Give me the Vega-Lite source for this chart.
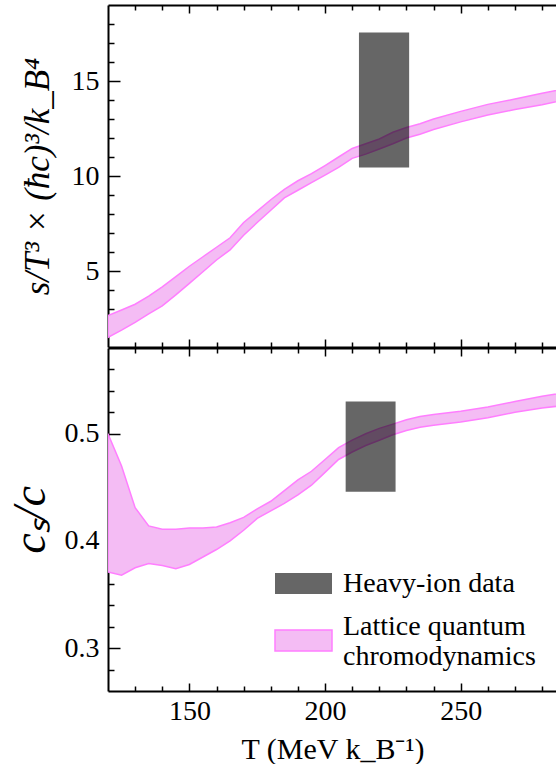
{
  "$schema": "https://vega.github.io/schema/vega-lite/v6.json",
  "padding": {"left": 7, "top": 4, "right": 0, "bottom": 0},
  "background": "white",
  "config": {
    "view": {"stroke": null},
    "axis": {
      "grid": false, "domainColor": "#000", "domainWidth": 2, "tickColor": "#000", "tickWidth": 1.5,
      "labelFont": "Liberation Serif", "labelFontSize": 28, "labelColor": "#000",
      "titleFont": "Liberation Serif", "titleFontSize": 30, "titleFontWeight": "normal", "titleColor": "#000",
      "labelOverlap": false, "labelFlush": false
    }
  },
  "datasets": {
    "entropy": [
      {"T": 120, "lo": 1.51, "hi": 2.65}, {"T": 125, "lo": 1.89, "hi": 2.95}, {"T": 130, "lo": 2.30, "hi": 3.25},
      {"T": 135, "lo": 2.74, "hi": 3.68}, {"T": 140, "lo": 3.17, "hi": 4.17}, {"T": 145, "lo": 3.74, "hi": 4.70},
      {"T": 150, "lo": 4.35, "hi": 5.25}, {"T": 155, "lo": 4.96, "hi": 5.75}, {"T": 160, "lo": 5.58, "hi": 6.25},
      {"T": 165, "lo": 6.11, "hi": 6.75}, {"T": 170, "lo": 6.88, "hi": 7.55}, {"T": 175, "lo": 7.55, "hi": 8.15},
      {"T": 180, "lo": 8.20, "hi": 8.75}, {"T": 185, "lo": 8.85, "hi": 9.30}, {"T": 190, "lo": 9.25, "hi": 9.75},
      {"T": 195, "lo": 9.65, "hi": 10.12}, {"T": 200, "lo": 10.05, "hi": 10.55}, {"T": 205, "lo": 10.45, "hi": 11.0},
      {"T": 210, "lo": 10.93, "hi": 11.45}, {"T": 215, "lo": 11.15, "hi": 11.70}, {"T": 220, "lo": 11.42, "hi": 11.95},
      {"T": 225, "lo": 11.70, "hi": 12.30}, {"T": 230, "lo": 12.0, "hi": 12.55}, {"T": 235, "lo": 12.20, "hi": 12.75},
      {"T": 240, "lo": 12.45, "hi": 13.0}, {"T": 250, "lo": 12.85, "hi": 13.40}, {"T": 260, "lo": 13.21, "hi": 13.77},
      {"T": 270, "lo": 13.50, "hi": 14.05}, {"T": 280, "lo": 13.75, "hi": 14.35}, {"T": 290, "lo": 14.05, "hi": 14.65}
    ],
    "sound": [
      {"T": 120, "lo": 0.371, "hi": 0.500}, {"T": 125, "lo": 0.368, "hi": 0.470}, {"T": 130, "lo": 0.375, "hi": 0.431},
      {"T": 135, "lo": 0.379, "hi": 0.414}, {"T": 140, "lo": 0.377, "hi": 0.411}, {"T": 145, "lo": 0.374, "hi": 0.411},
      {"T": 150, "lo": 0.378, "hi": 0.412}, {"T": 155, "lo": 0.385, "hi": 0.412}, {"T": 160, "lo": 0.392, "hi": 0.413},
      {"T": 165, "lo": 0.400, "hi": 0.417}, {"T": 170, "lo": 0.410, "hi": 0.422}, {"T": 175, "lo": 0.421, "hi": 0.430},
      {"T": 180, "lo": 0.428, "hi": 0.437}, {"T": 185, "lo": 0.435, "hi": 0.447}, {"T": 190, "lo": 0.443, "hi": 0.457},
      {"T": 195, "lo": 0.452, "hi": 0.465}, {"T": 200, "lo": 0.464, "hi": 0.476}, {"T": 205, "lo": 0.476, "hi": 0.487},
      {"T": 210, "lo": 0.483, "hi": 0.494}, {"T": 215, "lo": 0.489, "hi": 0.500}, {"T": 220, "lo": 0.494, "hi": 0.505},
      {"T": 225, "lo": 0.499, "hi": 0.509}, {"T": 230, "lo": 0.503, "hi": 0.513}, {"T": 235, "lo": 0.506, "hi": 0.516},
      {"T": 240, "lo": 0.508, "hi": 0.518}, {"T": 250, "lo": 0.511, "hi": 0.521}, {"T": 260, "lo": 0.515, "hi": 0.525},
      {"T": 270, "lo": 0.520, "hi": 0.530}, {"T": 280, "lo": 0.524, "hi": 0.535}, {"T": 290, "lo": 0.527, "hi": 0.539}
    ],
    "hion_s": [{"T0": 212.5, "T1": 231, "v0": 10.45, "v1": 17.55}],
    "hion_cs": [{"T0": 207.6, "T1": 226, "v0": 0.446, "v1": 0.530}]
  },
  "spacing": 1,
  "bounds": "flush",
  "resolve": {
    "scale": {"fill": "independent", "stroke": "independent"},
    "legend": {"fill": "independent", "stroke": "independent"}
  },
  "vconcat": [
    {
      "width": 449, "height": 342,
      "resolve": {"axis": {"x": "independent", "y": "independent"}},
      "layer": [
        {
          "data": {"name": "entropy"},
          "mark": {"type": "area", "fill": "#f4bcf4", "stroke": "#ff7eff", "strokeWidth": 1.5, "opacity": 1, "clip": true},
          "encoding": {
            "x": {"field": "T", "type": "quantitative",
              "scale": {"domain": [120, 285.5], "nice": false, "zero": false},
              "axis": {"orient": "bottom", "values": [130,140,150,160,170,180,190,200,210,220,230,240,250,260,270,280],
                "labels": false, "title": null,
                "tickSize": {"condition": {"test": "datum.value % 50 === 0", "value": -8}, "value": -5}}},
            "y": {"field": "hi", "type": "quantitative",
              "scale": {"domain": [1, 19], "nice": false, "zero": false},
              "axis": {"orient": "left", "values": [2,3,4,5,6,7,8,9,10,11,12,13,14,15,16,17,18],
                "labelExpr": "datum.value % 5 === 0 ? datum.label : ''", "labelPadding": 21,
                "tickSize": {"condition": {"test": "datum.value % 5 === 0", "value": -12}, "value": -6},
                "title": "s/T³ × (ħc)³/k_B⁴", "titlePadding": 16, "titleFontSize": 35, "titleFontStyle": "italic"}},
            "y2": {"field": "lo"}
          }
        },
        {
          "data": {"name": "hion_s"},
          "mark": {"type": "rect", "fill": "#000000", "opacity": 0.6, "clip": true},
          "encoding": {
            "x": {"field": "T0", "type": "quantitative",
              "axis": {"orient": "top", "values": [130,140,150,160,170,180,190,200,210,220,230,240,250,260,270,280],
                "labels": false, "title": null,
                "tickSize": {"condition": {"test": "datum.value % 50 === 0", "value": -8}, "value": -5}}},
            "x2": {"field": "T1"},
            "y": {"field": "v0", "type": "quantitative", "axis": null},
            "y2": {"field": "v1"}
          }
        }
      ]
    },
    {
      "width": 449, "height": 343,
      "resolve": {
        "axis": {"x": "independent", "y": "independent"},
        "scale": {"fill": "independent", "stroke": "independent"},
        "legend": {"fill": "independent", "stroke": "independent"}
      },
      "layer": [
        {
          "data": {"name": "sound"},
          "mark": {"type": "area", "strokeWidth": 1.5, "opacity": 1, "clip": true},
          "encoding": {
            "x": {"field": "T", "type": "quantitative",
              "scale": {"domain": [120, 285.5], "nice": false, "zero": false},
              "axis": {"orient": "bottom", "values": [130,140,150,160,170,180,190,200,210,220,230,240,250,260,270,280],
                "labelExpr": "datum.value % 50 === 0 ? datum.label : ''", "labelPadding": 14,
                "tickSize": {"condition": {"test": "datum.value % 50 === 0", "value": -8}, "value": -5},
                "title": "T (MeV k_B⁻¹)", "titlePadding": 6}},
            "y": {"field": "hi", "type": "quantitative",
              "scale": {"domain": [0.26, 0.58], "nice": false, "zero": false},
              "axis": {"orient": "left", "values": [0.28,0.3,0.32,0.34,0.36,0.38,0.4,0.42,0.44,0.46,0.48,0.5,0.52,0.54,0.56],
                "format": ".1f",
                "labelExpr": "abs(datum.value*10 - round(datum.value*10)) < 0.001 ? datum.label : ''", "labelPadding": 21,
                "tickSize": {"condition": {"test": "abs(datum.value*10 - round(datum.value*10)) < 0.001", "value": -12}, "value": -6},
                "title": "cₛ/c", "titlePadding": 10, "titleFontSize": 46, "titleFontStyle": "italic"}},
            "y2": {"field": "lo"},
            "fill": {"datum": "Lattice quantum chromodynamics", "type": "nominal",
              "scale": {"domain": ["Lattice quantum chromodynamics"], "range": ["#f4bcf4"]},
              "legend": {"orient": "none", "legendX": 166, "legendY": 263, "title": null, "padding": 0,
                "symbolType": "M-1,-0.368H1V0.368H-1Z", "symbolSize": 3249, "symbolStrokeWidth": 1.5,
                "labelFont": "Liberation Serif", "labelFontSize": 28, "labelColor": "#000", "labelOffset": 10, "labelLimit": 0,
                "labelBaseline": "bottom",
                "labelExpr": "['Lattice quantum', 'chromodynamics']"}},
            "stroke": {"datum": "Lattice quantum chromodynamics", "type": "nominal",
              "scale": {"domain": ["Lattice quantum chromodynamics"], "range": ["#ff7eff"]},
              "legend": null}
          }
        },
        {
          "data": {"name": "hion_cs"},
          "mark": {"type": "rect", "opacity": 0.6, "clip": true},
          "encoding": {
            "x": {"field": "T0", "type": "quantitative",
              "axis": {"orient": "top", "values": [130,140,150,160,170,180,190,200,210,220,230,240,250,260,270,280],
                "labels": false, "title": null,
                "tickSize": {"condition": {"test": "datum.value % 50 === 0", "value": -8}, "value": -5}}},
            "x2": {"field": "T1"},
            "y": {"field": "v0", "type": "quantitative", "axis": null},
            "y2": {"field": "v1"},
            "fill": {"datum": "Heavy-ion data", "type": "nominal",
              "scale": {"domain": ["Heavy-ion data"], "range": ["#000000"]},
              "legend": {"orient": "none", "legendX": 166, "legendY": 206, "title": null, "padding": 0,
                "symbolType": "M-1,-0.368H1V0.368H-1Z", "symbolSize": 3249, "symbolOpacity": 0.6,
                "labelFont": "Liberation Serif", "labelFontSize": 28, "labelColor": "#000", "labelOffset": 10, "labelLimit": 0}}
          }
        }
      ]
    }
  ]
}
